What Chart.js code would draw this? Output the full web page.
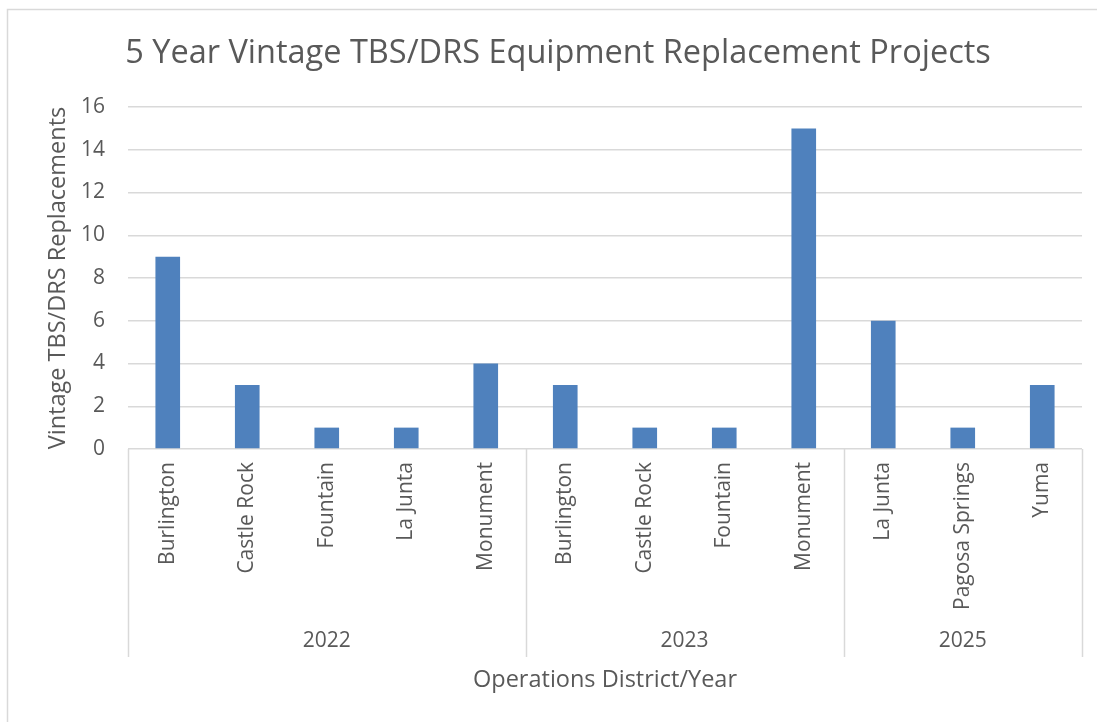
<!DOCTYPE html>
<html>
<head>
<meta charset="utf-8">
<script src="https://cdn.jsdelivr.net/npm/chart.js@4.4.0/dist/chart.umd.min.js"></script>
<style>
  body { margin: 0; background: #fff; }
  canvas { display: block; }
</style>
</head>
<body>
<canvas id="myChart" width="1097" height="722"></canvas>
<script>
// categories (district) and the year each one sits under
var districts = ['Burlington', 'Castle Rock', 'Fountain', 'La Junta', 'Monument',
    'Burlington', 'Castle Rock', 'Fountain', 'Monument',
    'La Junta', 'Pagosa Springs', 'Yuma']
var years = ['2022', '2022', '2022', '2022', '2022',
    '2023', '2023', '2023', '2023',
    '2025', '2025', '2025']
var replacements = [9, 3, 1, 1, 4, 3, 1, 1, 15, 6, 1, 3]
var yTicks = [0, 2, 4, 6, 8, 10, 12, 14, 16]

var textColor = '#595959'
var lineColor = '#d9d9d9'
var fontName = '"Open Sans", Lato, sans-serif'

// outer chart frame like the excel chart area
var framePlugin = {
    id: 'frame',
    beforeDraw: function (chart) {
        var ctx = chart.ctx
        ctx.save()
        ctx.fillStyle = '#fff'
        ctx.fillRect(0, 0, chart.width, chart.height)
        ctx.strokeStyle = lineColor
        ctx.lineWidth = 1.5
        ctx.strokeRect(7.5, 9.5, 1200, 900)
        ctx.restore()
    }
}

// second level of the category axis: year labels and separators
var groupPlugin = {
    id: 'groups',
    afterDraw: function (chart) {
        var ctx = chart.ctx
        var x = chart.scales.x
        var area = chart.chartArea
        var bottom = 657
        var edges = [area.left]
        var names = [years[0]]
        for (var i = 1; i < years.length; i++) {
            if (years[i] != years[i - 1]) {
                edges.push((x.getPixelForValue(i - 1) + x.getPixelForValue(i)) / 2)
                names.push(years[i])
            }
        }
        edges.push(area.right)
        ctx.save()
        ctx.strokeStyle = lineColor
        ctx.lineWidth = 1.5
        edges.forEach(function (e) {
            var px = Math.round(e) + 0.5
            ctx.beginPath()
            ctx.moveTo(px, area.bottom)
            ctx.lineTo(px, bottom)
            ctx.stroke()
        })
        ctx.fillStyle = textColor
        ctx.font = '21px ' + fontName
        ctx.textAlign = 'center'
        ctx.textBaseline = 'middle'
        names.forEach(function (n, k) {
            ctx.fillText(n, (edges[k] + edges[k + 1]) / 2, 641)
        })
        ctx.restore()
    }
}

var data = {
    labels: districts,
    datasets: [{
        label: 'Replacements',
        data: replacements,
        backgroundColor: '#4f81bd',
        barPercentage: 0.31,
        categoryPercentage: 1
    }]
}

var options = {
    responsive: false,
    animation: false,
    layout: {
        padding: { left: 34, right: 15, top: 0, bottom: 0 }
    },
    plugins: {
        legend: { display: false },
        tooltip: { enabled: false },
        title: {
            display: true,
            text: '5 Year Vintage TBS/DRS Equipment Replacement Projects',
            color: textColor,
            font: { family: fontName, size: 32.5, weight: 'normal', lineHeight: 1.2 },
            padding: { top: 34.5, bottom: 33.5 }
        }
    },
    scales: {
        x: {
            grid: { display: false, drawTicks: false },
            border: { display: false },
            ticks: {
                color: textColor,
                font: { family: fontName, size: 21 },
                minRotation: 90,
                maxRotation: 90,
                autoSkip: false,
                padding: 13
            },
            title: {
                display: true,
                text: 'Operations District/Year',
                color: textColor,
                font: { family: fontName, size: 23.5 },
                padding: { top: 0, bottom: 28 }
            },
            afterFit: function (scale) {
                scale.height = 722 - 449
            }
        },
        y: {
            min: 0,
            max: 16,
            afterBuildTicks: function (scale) {
                scale.ticks = yTicks.map(function (v) { return { value: v } })
            },
            grid: { color: lineColor, lineWidth: 1.5, drawTicks: false },
            border: { display: false },
            ticks: {
                color: textColor,
                font: { family: fontName, size: 21 },
                padding: 23
            },
            title: {
                display: true,
                text: 'Vintage TBS/DRS Replacements',
                color: textColor,
                font: { family: fontName, size: 23.5 },
                padding: { top: 10 }
            },
            afterFit: function (scale) {
                scale.width = 128 - 34
            }
        }
    }
}

var ctx = document.getElementById('myChart').getContext('2d')
var myChart = new Chart(ctx, {
    type: 'bar',
    data: data,
    options: options,
    plugins: [framePlugin, groupPlugin]
})
</script>
</body>
</html>
